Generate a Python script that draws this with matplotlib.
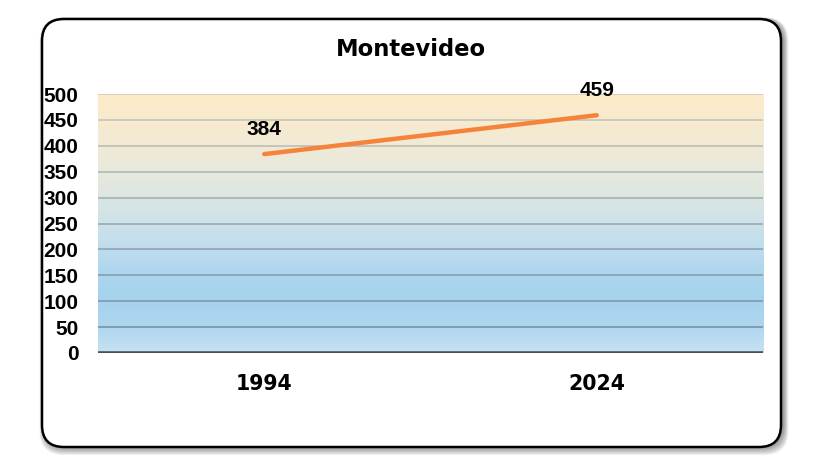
import matplotlib.pyplot as plt
import numpy as np
from matplotlib.colors import LinearSegmentedColormap
from matplotlib.patches import FancyBboxPatch

# Data
title = "Montevideo"
years = ["1994", "2024"]
values = [384, 459]
yticks = [0, 50, 100, 150, 200, 250, 300, 350, 400, 450, 500]

W, H = 821, 466
fig = plt.figure(figsize=(W / 100, H / 100), dpi=100)

# Card background with soft shadow (pixel coords)
bg = fig.add_axes([0, 0, 1, 1])
bg.set_xlim(0, W)
bg.set_ylim(0, H)
bg.axis("off")
x0, y0, x1, y1 = 42, 19, 781, 447  # image coords (y from top)
for i in range(9, 0, -1):
    bg.add_patch(FancyBboxPatch((x0 - i * 0.5 + 2, H - y1 - i * 0.9), x1 - x0 + i * 1.1, y1 - y0 + i * 1.1,
                                boxstyle="round,pad=0,rounding_size=24",
                                fc="black", ec="none", alpha=0.05))
bg.add_patch(FancyBboxPatch((x0, H - y1), x1 - x0, y1 - y0,
                            boxstyle="round,pad=0,rounding_size=22",
                            fc="white", ec="black", lw=1.8))

fig.text(411 / W, 1 - 49 / H, title, ha="center", va="center",
         fontsize=16.3, fontweight="bold", family="DejaVu Sans")

ax = fig.add_axes([98 / W, 1 - 353 / H, (763 - 98) / W, (353 - 94) / H])
x = np.arange(len(years))

# Gradient plot background
cmap = LinearSegmentedColormap.from_list("bg", [
    (0.0, "#c6e2f2"), (0.1, "#b0d6ef"), (0.2, "#a6d2ed"), (0.3, "#acd5ee"),
    (0.4, "#bedcee"), (0.5, "#cde2ea"), (0.6, "#dce6e2"), (0.7, "#e7e9dd"),
    (0.8, "#f1ead6"), (0.9, "#f7ebcf"), (1.0, "#fdecc8")])
grad = np.linspace(0, 1, 256).reshape(-1, 1)
ax.imshow(grad, cmap=cmap, origin="lower", aspect="auto",
          extent=[-0.5, len(years) - 0.5, 0, 500], zorder=0)

# Gridlines, tinted from blue-grey to tan
gcmap = LinearSegmentedColormap.from_list("g", ["#6e8ea6", "#9aa9b0", "#d2cbba"])
for t in yticks[1:]:
    ax.axhline(t, color=gcmap(t / 500), lw=1.2, zorder=1)
ax.axhline(0, color="#4a5058", lw=2.6, zorder=2)

ax.plot(x, values, color="#f5843a", lw=3.2, solid_capstyle="round", zorder=3)
for xi, v in zip(x, values):
    ax.annotate(str(v), (xi, v), xytext=(0, 18), textcoords="offset points",
                ha="center", va="center", fontsize=15, fontweight="bold",
                family="Liberation Sans")

ax.set_xlim(-0.5, len(years) - 0.5)
ax.set_ylim(0, 500)
ax.set_yticks(yticks)
ax.set_yticklabels([str(t) for t in yticks], fontsize=15, fontweight="bold",
                   family="Liberation Sans")
ax.set_xticks(x)
ax.set_xticklabels(years, fontsize=14.8, fontweight="bold", family="DejaVu Sans")
ax.tick_params(axis="y", length=0, pad=14)
ax.tick_params(axis="x", length=0, pad=15)
for s in ax.spines.values():
    s.set_visible(False)

plt.savefig("out.png", dpi=100)
